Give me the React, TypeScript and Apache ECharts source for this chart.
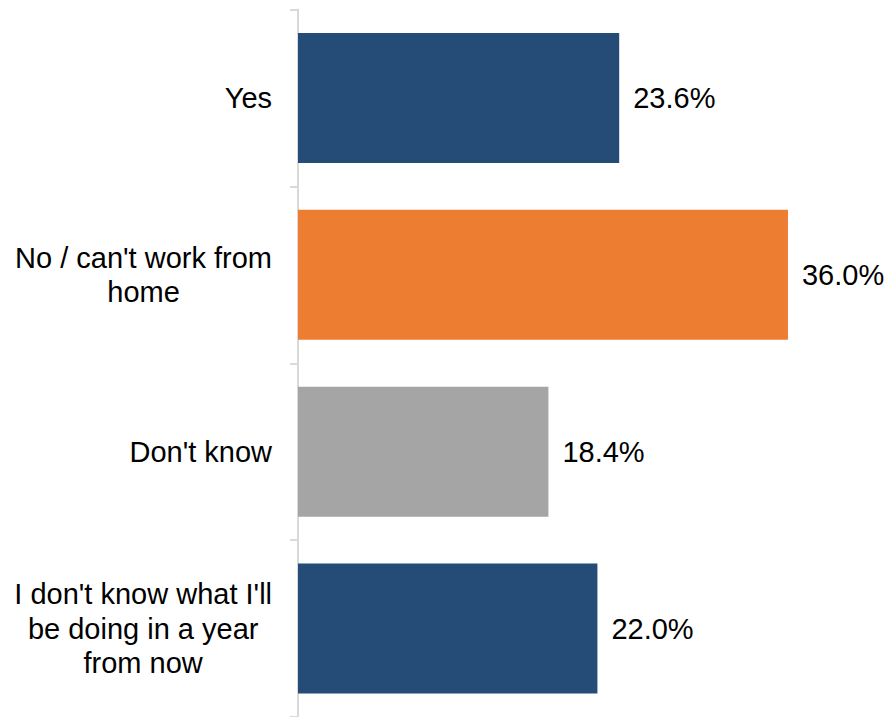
import React, { useEffect, useRef } from "react";
import * as echarts from "echarts";

const categories = [
  "Yes",
  "No / can't work from\nhome",
  "Don't know",
  "I don't know what I'll\nbe doing in a year\nfrom now",
];
const values = [23.6, 36.0, 18.4, 22.0];
const barColors = ["#254C77", "#ED7D31", "#A5A5A5", "#254C77"];

const FONT = "'Liberation Sans', Arial, sans-serif";

export default function App() {
  const ref = useRef<HTMLDivElement>(null);
  useEffect(() => {
    if (!ref.current) return;
    const chart = echarts.init(ref.current, null, { renderer: "svg" });
    chart.setOption({
      animation: false,
      backgroundColor: "#ffffff",
      grid: { left: 298, right: 44.6, top: 9.5, bottom: -1.8 },
      xAxis: {
        type: "value",
        min: 0,
        max: 40,
        show: false,
      },
      yAxis: {
        type: "category",
        inverse: true,
        data: categories,
        axisLine: { show: true, lineStyle: { color: "#D9D9D9", width: 2 } },
        axisTick: { show: true, length: 8, lineStyle: { color: "#D9D9D9", width: 2 } },
        axisLabel: {
          margin: 26,
          align: "right",
          color: "#000000",
          fontFamily: FONT,
          fontSize: 29,
          lineHeight: 34.5,
          formatter: (v: string) =>
            v
              .split("\n")
              .map((l) => "{c|" + l + "}")
              .join("\n"),
          rich: {
            c: {
              align: "center",
              color: "#000000",
              fontFamily: FONT,
              fontSize: 29,
              lineHeight: 34.5,
            },
          },
        },
        splitLine: { show: false },
      },
      series: [
        {
          type: "bar",
          barWidth: 130,
          data: values.map((v, i) => ({
            value: v,
            itemStyle: { color: barColors[i] },
          })),
          label: {
            show: true,
            position: "right",
            distance: 14,
            color: "#000000",
            fontFamily: FONT,
            fontSize: 29,
            formatter: (p: any) => p.value.toFixed(1) + "%",
          },
        },
      ],
    });
    return () => chart.dispose();
  }, []);
  return (
    <div
      ref={ref}
      style={{ position: "fixed", left: 0, top: 0, width: 887, height: 717 }}
    />
  );
}
